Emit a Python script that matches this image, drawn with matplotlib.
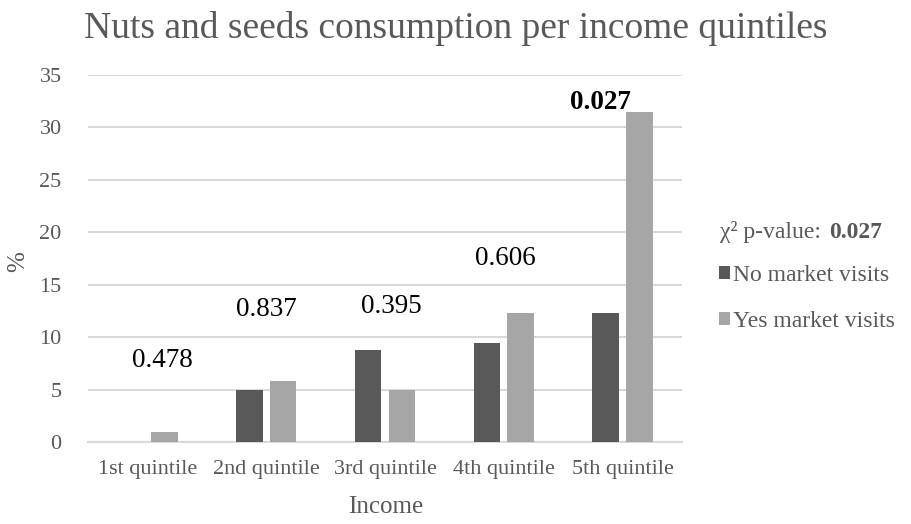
import matplotlib
matplotlib.use("Agg")
import matplotlib.pyplot as plt
import numpy as np

categories = ["1st quintile", "2nd quintile", "3rd quintile", "4th quintile", "5th quintile"]
no_visits = [0.0, 5.0, 8.8, 9.4, 12.3]
yes_visits = [1.0, 5.8, 5.0, 12.3, 31.5]
p_values = ["0.478", "0.837", "0.395", "0.606", "0.027"]
p_bold = [False, False, False, False, True]
label_heights = [7.8, 12.6, 12.9, 17.5, 32.4]
label_dx = [0.123, 0.0, 0.05, 0.01, -0.19]
yticks = [0, 5, 10, 15, 20, 25, 30, 35]

plt.rcParams['font.family'] = ['Liberation Serif', 'DejaVu Serif']
TXT = '#595959'
DARK = '#595959'
LIGHT = '#a6a6a6'
GRID = '#d9d9d9'

fig = plt.figure(figsize=(9.12, 5.24), dpi=100)
ax = fig.add_axes([88/912, 1-442/524, 594/912, 367/524])

x = np.arange(len(categories))
w = 0.225
off = 0.142
b1 = ax.bar(x - off, no_visits, w, color=DARK, label='No market visits', zorder=3)
b2 = ax.bar(x + off, yes_visits, w, color=LIGHT, label='Yes market visits', zorder=3)

ax.set_xlim(-0.5, 4.5)
ax.set_ylim(0, 35)
ax.set_yticks(yticks)
ax.set_xticks(x)
ax.set_xticklabels(categories)
ax.tick_params(axis='both', length=0, labelsize=16, colors=TXT)
ax.tick_params(axis='y', pad=19)
ax.tick_params(axis='x', pad=13)
ax.grid(axis='y', color=GRID, linewidth=1.5, zorder=0)
for s in ['top', 'right', 'left']:
    ax.spines[s].set_visible(False)
ax.spines['bottom'].set_color(GRID)
ax.spines['bottom'].set_linewidth(1.5)
ax.set_axisbelow(True)

for i, (p, h, b, dx) in enumerate(zip(p_values, label_heights, p_bold, label_dx)):
    ax.text(i + dx, h, p, ha='center', va='center', fontsize=19.5, color='black',
            fontweight='bold' if b else 'normal')

fig.text(386/912, 1-507/524, 'Income', ha='center', va='center', fontsize=18, color=TXT)
fig.text(18/912, 1-262/524, '%', ha='center', va='center', fontsize=18, color=TXT,
         rotation=90)

fig.text(0.5, 1-29/524, 'Nuts and seeds consumption per income quintiles',
         ha='center', va='center', fontsize=27, color=TXT)

t1 = fig.text(720/912, 1-232/524, 'χ² p-value: ', ha='left', va='center',
              fontsize=17, color=TXT)
ax.annotate('0.027', xy=(1, 0), xycoords=t1, xytext=(2, 0), textcoords='offset points',
            ha='left', va='bottom', fontsize=17, color=TXT, fontweight='bold',
            annotation_clip=False)

leg = fig.legend(handles=[b1, b2], loc='upper left', bbox_to_anchor=(719/912, 1-265/524),
                 frameon=False, fontsize=17, labelcolor=TXT, handlelength=0.45,
                 handleheight=0.45, handletextpad=0.15, labelspacing=1.05, borderaxespad=0,
                 borderpad=0)

fig.savefig('out.png', dpi=100)
